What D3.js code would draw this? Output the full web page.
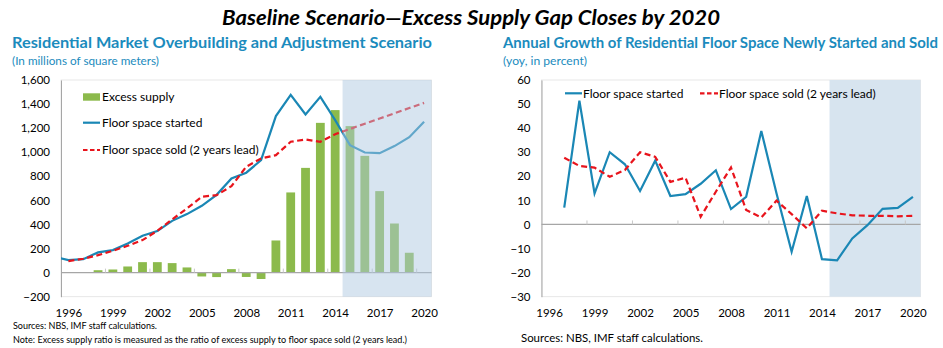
<!DOCTYPE html>
<html>
<head>
<meta charset="utf-8">
<script src="https://cdn.jsdelivr.net/npm/d3@7"></script>
<style>
  body { margin: 0; background: #fff; }
  svg { display: block; font-family: Lato, "Open Sans", sans-serif; }
</style>
</head>
<body>
<svg id="chart" width="943" height="348"></svg>
<script>
// Levels, millions of square meters
const levelYears = [1996, 1997, 1998, 1999, 2000, 2001, 2002, 2003, 2004, 2005, 2006, 2007, 2008,
                    2009, 2010, 2011, 2012, 2013, 2014, 2015, 2016, 2017, 2018, 2019, 2020];
const startedLevelYears = [1995].concat(levelYears);
const startedLevel = [132, 104, 112, 168, 187, 242, 306, 345, 430, 486, 555, 646, 782, 830,
                      934, 1300, 1477, 1314, 1460, 1267, 1059, 998, 992, 1051, 1125, 1253];
const soldLevel = [96, 115, 145, 181, 223, 270, 347, 442, 533, 630, 644, 718, 880,
                   948, 976, 1087, 1106, 1087, 1150, 1193, 1237, 1280, 1323, 1367, 1410];
const excessSupply = [5, 0, 20, 26, 51, 87, 87, 79, 43, -32, -37, 29, -36,
                      -53, 267, 666, 870, 1244, 1350, 1217, 970, 677, 408, 165, 0];

// Growth, yoy percent
const growthYears = levelYears.slice(1);
const startedGrowth = [7, 51.4, 12.9, 30, 25, 13.9, 26.5, 11.8, 12.6, 16.9, 22.5, 6.4,
                       11.5, 38.8, 13, -11.3, 11.8, -14.4, -14.9, -5.8, -0.3, 6.5, 6.9, 11.5];
const soldGrowth = [27.7, 24.3, 23.6, 19.8, 22.6, 30, 28.1, 17.7, 19.4, 3.2, 13.6, 23.7,
                    6, 2.9, 9.9, 4.3, -1.6, 5.7, 4.6, 3.8, 3.6, 3.6, 3.4, 3.6];

const levelTicks = [-200, 0, 200, 400, 600, 800, 1000, 1200, 1400, 1600];
const growthTicks = [-30, -20, -10, 0, 10, 20, 30, 40, 50, 60];
const yearLabels = levelYears.filter((d, i) => i % 3 === 0);
const projectionStart = 2014.5;

const BLUE = "#1a87b5", RED = "#e8141c", GREEN = "#8cba4c", AXIS = "#a6a6a6",
      HEAD = "#1b8bbd", SHADE = "#d7e4ef";

const svg = d3.select("#chart");

svg.append("text")
  .attr("x", 471).attr("y", 25).attr("text-anchor", "middle")
  .attr("font-size", 20).attr("font-weight", "bold").attr("font-style", "italic")
  .attr("textLength", 498).attr("lengthAdjust", "spacingAndGlyphs")
  .text("Baseline Scenario\u2014Excess Supply Gap Closes by 2020");

function heading(x, title, titleLen, unit, unitLen) {
  svg.append("text").attr("x", x).attr("y", 47.5)
    .attr("font-size", 15).attr("font-weight", "bold").attr("fill", HEAD)
    .attr("textLength", titleLen).attr("lengthAdjust", "spacingAndGlyphs")
    .text(title);
  svg.append("text").attr("x", x).attr("y", 65)
    .attr("font-size", 11).attr("fill", HEAD)
    .attr("textLength", unitLen).attr("lengthAdjust", "spacingAndGlyphs")
    .text(unit);
}

// Frame, axes and scales shared by both panels
function panel(opt) {
  const g = svg.append("g");
  const x = d3.scaleLinear().domain([1995.5, 2020.5]).range([opt.left, opt.right]);
  const y = d3.scaleLinear().domain(opt.yDomain).range([opt.bottom, opt.top]);

  g.append("rect")
    .attr("x", opt.left).attr("y", opt.top)
    .attr("width", opt.right - opt.left).attr("height", opt.bottom - opt.top)
    .attr("fill", "#fff").attr("stroke", "#e2e2e2").attr("stroke-width", 0.8);

  const yAxis = g.append("g").attr("transform", `translate(${opt.left},0)`)
    .call(d3.axisLeft(y).tickValues(opt.yTicks).tickSize(0).tickPadding(11)
      .tickFormat(opt.yFormat));
  yAxis.select(".domain").attr("stroke", AXIS);
  yAxis.selectAll("text").attr("font-size", 11.5).attr("font-family", "Lato").attr("fill", "#000");

  const xAxis = g.append("g").attr("transform", `translate(0,${opt.bottom})`)
    .call(d3.axisBottom(x).tickValues(yearLabels).tickSize(0).tickPadding(12)
      .tickFormat(d3.format("d")));
  xAxis.select(".domain").remove();
  xAxis.selectAll("text").attr("font-size", 11.5).attr("font-family", "Lato").attr("fill", "#000");

  return { g, x, y };
}

function zeroLine(p, opt) {
  p.g.append("line")
    .attr("x1", opt.left).attr("x2", opt.right)
    .attr("y1", p.y(0)).attr("y2", p.y(0))
    .attr("stroke", AXIS).attr("stroke-width", 1.2);
  p.g.selectAll(".zt").data(levelYears.filter((d, i) => i % 3 === 2).map(d => d + 0.5))
    .join("line")
    .attr("x1", d => p.x(d)).attr("x2", d => p.x(d))
    .attr("y1", p.y(0)).attr("y2", p.y(0) - 4)
    .attr("stroke", "#c8c8c8");
}

// ---- Left panel: levels ----
heading(12, "Residential Market Overbuilding and Adjustment Scenario", 420,
        "(In millions of square meters)", 147);

const L = { left: 61, right: 431.5, top: 80, bottom: 296.7,
            yDomain: [-200, 1600], yTicks: levelTicks, yFormat: d3.format(",") };
const lp = panel(L);

svg.append("clipPath").attr("id", "clipL").append("rect")
  .attr("x", L.left).attr("y", L.top)
  .attr("width", L.right - L.left).attr("height", L.bottom - L.top);

const barW = 8.8;
lp.g.selectAll(".bar").data(levelYears.map((yr, i) => ({ yr, v: excessSupply[i] })))
  .join("rect")
  .attr("x", d => lp.x(d.yr) - barW / 2)
  .attr("y", d => lp.y(Math.max(0, d.v)))
  .attr("width", barW)
  .attr("height", d => Math.abs(lp.y(d.v) - lp.y(0)))
  .attr("fill", GREEN);

zeroLine(lp, L);

const lineL = d3.line().x(d => lp.x(d[0])).y(d => lp.y(d[1]));
lp.g.append("path")
  .attr("clip-path", "url(#clipL)")
  .attr("d", lineL(startedLevelYears.map((yr, i) => [yr, startedLevel[i]])))
  .attr("fill", "none").attr("stroke", BLUE).attr("stroke-width", 2.2);
lp.g.append("path")
  .attr("clip-path", "url(#clipL)")
  .attr("d", lineL(levelYears.map((yr, i) => [yr, soldLevel[i]])))
  .attr("fill", "none").attr("stroke", RED).attr("stroke-width", 2.2)
  .attr("stroke-dasharray", "6,3.5");

// projection period washed over the marks
lp.g.append("rect")
  .attr("x", lp.x(projectionStart)).attr("y", L.top)
  .attr("width", L.right - lp.x(projectionStart)).attr("height", L.bottom - L.top)
  .attr("fill", "rgb(173,200,224)").attr("fill-opacity", 0.49);

const legL = lp.g.append("g").attr("font-size", 12);
legL.append("rect").attr("x", 83).attr("y", 93.3).attr("width", 17).attr("height", 7.4).attr("fill", GREEN);
legL.append("text").attr("x", 102).attr("y", 97).attr("dy", "0.35em").text("Excess supply");
legL.append("line").attr("x1", 83).attr("x2", 100).attr("y1", 122.7).attr("y2", 122.7)
  .attr("stroke", BLUE).attr("stroke-width", 2.2);
legL.append("text").attr("x", 102).attr("y", 122.7).attr("dy", "0.35em").text("Floor space started");
legL.append("line").attr("x1", 83).attr("x2", 100).attr("y1", 150).attr("y2", 150)
  .attr("stroke", RED).attr("stroke-width", 2.2).attr("stroke-dasharray", "4.5,2.5");
legL.append("text").attr("x", 102).attr("y", 150).attr("dy", "0.35em").text("Floor space sold (2 years lead)");

// ---- Right panel: growth ----
heading(503, "Annual Growth of Residential Floor Space Newly Started and Sold", 435,
        "(yoy, in percent)", 84);

const R = { left: 541.5, right: 920.5, top: 80, bottom: 296.7,
            yDomain: [-30, 60], yTicks: growthTicks, yFormat: d3.format("d") };
const rp = panel(R);

rp.g.append("rect")
  .attr("x", rp.x(projectionStart)).attr("y", R.top)
  .attr("width", R.right - rp.x(projectionStart)).attr("height", R.bottom - R.top)
  .attr("fill", SHADE);

zeroLine(rp, R);

const lineR = d3.line().x(d => rp.x(d[0])).y(d => rp.y(d[1]));
rp.g.append("path")
  .attr("d", lineR(growthYears.map((yr, i) => [yr, startedGrowth[i]])))
  .attr("fill", "none").attr("stroke", BLUE).attr("stroke-width", 2.2);
rp.g.append("path")
  .attr("d", lineR(growthYears.map((yr, i) => [yr, soldGrowth[i]])))
  .attr("fill", "none").attr("stroke", RED).attr("stroke-width", 2.2)
  .attr("stroke-dasharray", "6,3.5");

const legR = rp.g.append("g").attr("font-size", 12);
legR.append("line").attr("x1", 565).attr("x2", 582).attr("y1", 93.3).attr("y2", 93.3)
  .attr("stroke", BLUE).attr("stroke-width", 2.2);
legR.append("text").attr("x", 583).attr("y", 93.3).attr("dy", "0.35em").text("Floor space started");
legR.append("line").attr("x1", 700).attr("x2", 718).attr("y1", 93.3).attr("y2", 93.3)
  .attr("stroke", RED).attr("stroke-width", 2.2).attr("stroke-dasharray", "4.5,2.5");
legR.append("text").attr("x", 719).attr("y", 93.3).attr("dy", "0.35em").text("Floor space sold (2 years lead)");

// ---- Notes ----
svg.append("text").attr("x", 13).attr("y", 328.5).attr("font-size", 8.8)
  .attr("textLength", 144).attr("lengthAdjust", "spacingAndGlyphs")
  .text("Sources: NBS, IMF staff calculations.");
svg.append("text").attr("x", 13).attr("y", 342.5).attr("font-size", 8.8)
  .attr("textLength", 394).attr("lengthAdjust", "spacingAndGlyphs")
  .text("Note: Excess supply ratio is measured as the ratio of excess supply to floor space sold (2 years lead.)");
svg.append("text").attr("x", 521).attr("y", 342).attr("font-size", 11)
  .attr("textLength", 182).attr("lengthAdjust", "spacingAndGlyphs")
  .text("Sources: NBS, IMF staff calculations.");
</script>
</body>
</html>
